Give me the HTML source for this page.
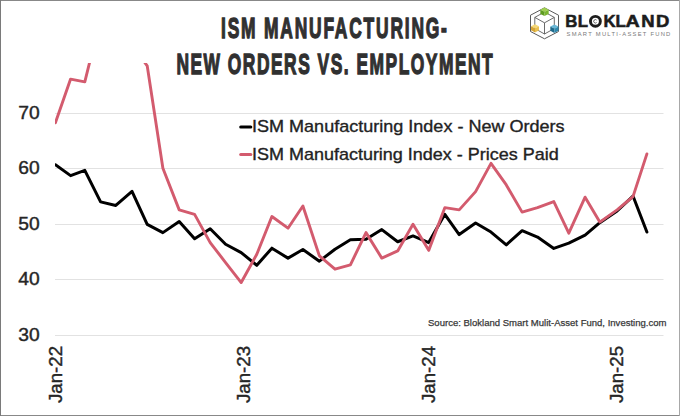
<!DOCTYPE html>
<html><head><meta charset="utf-8"><style>
html,body{margin:0;padding:0;background:#fff;}
body{width:680px;height:416px;overflow:hidden;position:relative;}
svg{position:absolute;left:0;top:0;display:block;}
.ax{font-family:"Liberation Sans",sans-serif;font-size:17.8px;fill:#262626;stroke:#262626;stroke-width:0.4px;}
.lg{font-family:"Liberation Sans",sans-serif;font-size:17px;fill:#222;stroke:#222;stroke-width:0.35px;}
.tt{font-family:"Liberation Sans",sans-serif;font-weight:bold;font-size:29px;fill:#303030;}
.src{font-family:"Liberation Sans",sans-serif;font-size:9.6px;fill:#383838;stroke:#383838;stroke-width:0.25px;}
</style></head><body>
<svg width="680" height="416" viewBox="0 0 680 416">
<rect x="0" y="0" width="680" height="416" fill="#fff"/>
<defs><clipPath id="pc"><rect x="55" y="63" width="625" height="340"/></clipPath></defs>
<line x1="55" y1="113.5" x2="663.5" y2="113.5" stroke="#e2e2e2" stroke-width="1"/>
<line x1="55" y1="168.5" x2="663.5" y2="168.5" stroke="#e2e2e2" stroke-width="1"/>
<line x1="55" y1="224.5" x2="663.5" y2="224.5" stroke="#e2e2e2" stroke-width="1"/>
<line x1="55" y1="279.5" x2="663.5" y2="279.5" stroke="#e2e2e2" stroke-width="1"/>
<line x1="55" y1="335.5" x2="663.5" y2="335.5" stroke="#e2e2e2" stroke-width="1"/>

<text x="18.3" y="118.8" class="ax" textLength="21.4" lengthAdjust="spacingAndGlyphs">70</text>
<text x="18.3" y="174.2" class="ax" textLength="21.4" lengthAdjust="spacingAndGlyphs">60</text>
<text x="18.3" y="229.7" class="ax" textLength="21.4" lengthAdjust="spacingAndGlyphs">50</text>
<text x="18.3" y="285.1" class="ax" textLength="21.4" lengthAdjust="spacingAndGlyphs">40</text>
<text x="18.3" y="340.5" class="ax" textLength="21.4" lengthAdjust="spacingAndGlyphs">30</text>

<text transform="translate(61.7,403) rotate(-90)" class="ax" textLength="57.0" lengthAdjust="spacingAndGlyphs">Jan-22</text>
<text transform="translate(249.5,403) rotate(-90)" class="ax" textLength="57.0" lengthAdjust="spacingAndGlyphs">Jan-23</text>
<text transform="translate(434.8,403) rotate(-90)" class="ax" textLength="57.0" lengthAdjust="spacingAndGlyphs">Jan-24</text>
<text transform="translate(623.1,403) rotate(-90)" class="ax" textLength="57.0" lengthAdjust="spacingAndGlyphs">Jan-25</text>

<g clip-path="url(#pc)" fill="none" stroke-linejoin="round" stroke-linecap="round">
<polyline points="55.40,164.73 70.60,175.65 84.80,170.38 100.60,201.87 115.80,205.47 132.00,191.33 147.20,224.31 162.90,232.63 179.20,221.54 194.60,238.73 210.20,228.75 225.60,244.27 241.20,252.58 256.80,265.33 271.90,248.15 288.00,258.13 302.90,249.53 319.40,261.18 335.00,249.26 350.40,239.83 366.00,239.28 381.80,229.58 397.70,241.77 413.00,235.95 428.70,242.61 444.80,214.34 459.20,234.57 475.60,222.93 491.00,232.07 506.30,244.82 522.10,230.69 537.50,237.06 553.80,248.43 568.80,243.16 585.10,235.12 599.80,222.65 617.10,211.01 633.00,196.05 646.90,232.07" stroke="#000" stroke-width="3"/>
<polyline points="55.40,122.88 70.60,79.09 84.80,81.86 100.60,18.11 115.80,31.97 132.00,45.28 147.20,65.78 162.90,168.33 179.20,209.90 194.60,214.34 210.20,242.61 225.60,262.56 241.20,282.52 256.80,254.25 271.90,216.55 288.00,228.19 302.90,206.02 319.40,255.91 335.00,269.21 350.40,264.78 366.00,232.63 381.80,258.13 397.70,250.92 413.00,224.31 428.70,250.37 444.80,207.69 459.20,209.90 475.60,191.61 491.00,163.34 506.30,184.96 522.10,212.12 537.50,207.69 553.80,201.59 568.80,233.18 585.10,197.15 599.80,222.10 617.10,209.90 633.00,196.60 646.90,153.92" stroke="#d35b6e" stroke-width="2.9"/>
</g>
<!-- legend -->
<line x1="240.7" y1="127.1" x2="250.8" y2="127.1" stroke="#000" stroke-width="3" stroke-linecap="round"/>
<text x="252" y="132" class="lg" textLength="312.6" lengthAdjust="spacingAndGlyphs">ISM Manufacturing Index - New Orders</text>
<line x1="240.7" y1="154.6" x2="250.8" y2="154.6" stroke="#d35b6e" stroke-width="3" stroke-linecap="round"/>
<text x="252" y="159.7" class="lg" textLength="306.7" lengthAdjust="spacingAndGlyphs">ISM Manufacturing Index - Prices Paid</text>
<!-- source -->
<text x="428" y="325.8" class="src" textLength="238.5" lengthAdjust="spacingAndGlyphs">Source: Blokland Smart Mulit-Asset Fund, Investing.com</text>
<!-- title -->
<text transform="translate(221.0,37.9) scale(0.6,1)" class="tt" textLength="376.5" lengthAdjust="spacing" stroke="#303030" stroke-width="1.1" vector-effect="non-scaling-stroke">ISM MANUFACTURING-</text>
<text transform="translate(176.4,74.4) scale(0.6,1)" class="tt" textLength="527.1666666666667" lengthAdjust="spacing" stroke="#303030" stroke-width="1.1" vector-effect="non-scaling-stroke">NEW ORDERS VS. EMPLOYMENT</text>
<!-- logo -->
<g fill="none" stroke="#5a5a5a" stroke-linejoin="round">
<polygon points="544.5,7.8 558.5,15.2 558.5,31.5 544.5,38.8 530.5,31.5 530.5,15.2" stroke-width="1"/>
<polygon points="544.5,12 554.3,17.4 544.5,22.8 534.8,17.4" stroke-width="0.9"/>
<polyline points="534.8,17.4 534.8,28.5 544.5,34 554.3,28.5 554.3,17.4" stroke-width="0.9"/>
<line x1="544.5" y1="22.8" x2="544.5" y2="34" stroke-width="0.9"/>
</g>
<polygon points="544.50,7.50 548.67,9.65 544.50,11.80 540.33,9.65" fill="#9fd04e"/><polygon points="540.33,9.65 544.50,11.80 544.50,16.10 540.33,13.95" fill="#5e9c20"/><polygon points="544.50,11.80 548.67,9.65 548.67,13.95 544.50,16.10" fill="#7ab52f"/>
<polygon points="535.00,24.20 538.98,26.25 535.00,28.30 531.02,26.25" fill="#f5d877"/><polygon points="531.02,26.25 535.00,28.30 535.00,32.40 531.02,30.35" fill="#d6a535"/><polygon points="535.00,28.30 538.98,26.25 538.98,30.35 535.00,32.40" fill="#e9c050"/>
<polygon points="554.40,24.50 558.47,26.60 554.40,28.70 550.33,26.60" fill="#69b7d6"/><polygon points="550.33,26.60 554.40,28.70 554.40,32.90 550.33,30.80" fill="#1e6a8a"/><polygon points="554.40,28.70 558.47,26.60 558.47,30.80 554.40,32.90" fill="#2d88ad"/>
<g font-family="Liberation Sans" font-weight="bold" font-size="16.8" fill="#1c1c1c" stroke="#1c1c1c" stroke-width="0.55" text-anchor="middle">
<text x="571.35" y="27.4">B</text><text x="582.85" y="27.4">L</text><text x="609.55" y="27.4">K</text><text x="620.65" y="27.4">L</text><text transform="translate(632.7,27.4) scale(1.17,1)">A</text><text transform="translate(647.95,27.4) scale(1.1,1)">N</text><text transform="translate(662.55,27.4) scale(1.1,1)">D</text>
</g>
<circle cx="595.4" cy="21.3" r="4.95" fill="none" stroke="#1c1c1c" stroke-width="2.9"/>
<path d="M596.6,20.1 A1.7,1.7 0 1 0 596.6,22.5" fill="none" stroke="#333" stroke-width="0.75"/>
<text x="566.5" y="35.6" font-family="Liberation Sans" font-size="5.8" fill="#7a7a7a" textLength="103.8" lengthAdjust="spacing">SMART MULTI-ASSET FUND</text>
<!-- frame -->
<rect x="0" y="0" width="680" height="1" fill="#888"/>
<rect x="0" y="415" width="680" height="1" fill="#888"/>
<rect x="0" y="0" width="1" height="416" fill="#7a7a7a"/>
<rect x="679" y="0" width="1" height="416" fill="#a8a8a8"/>
</svg>
</body></html>
